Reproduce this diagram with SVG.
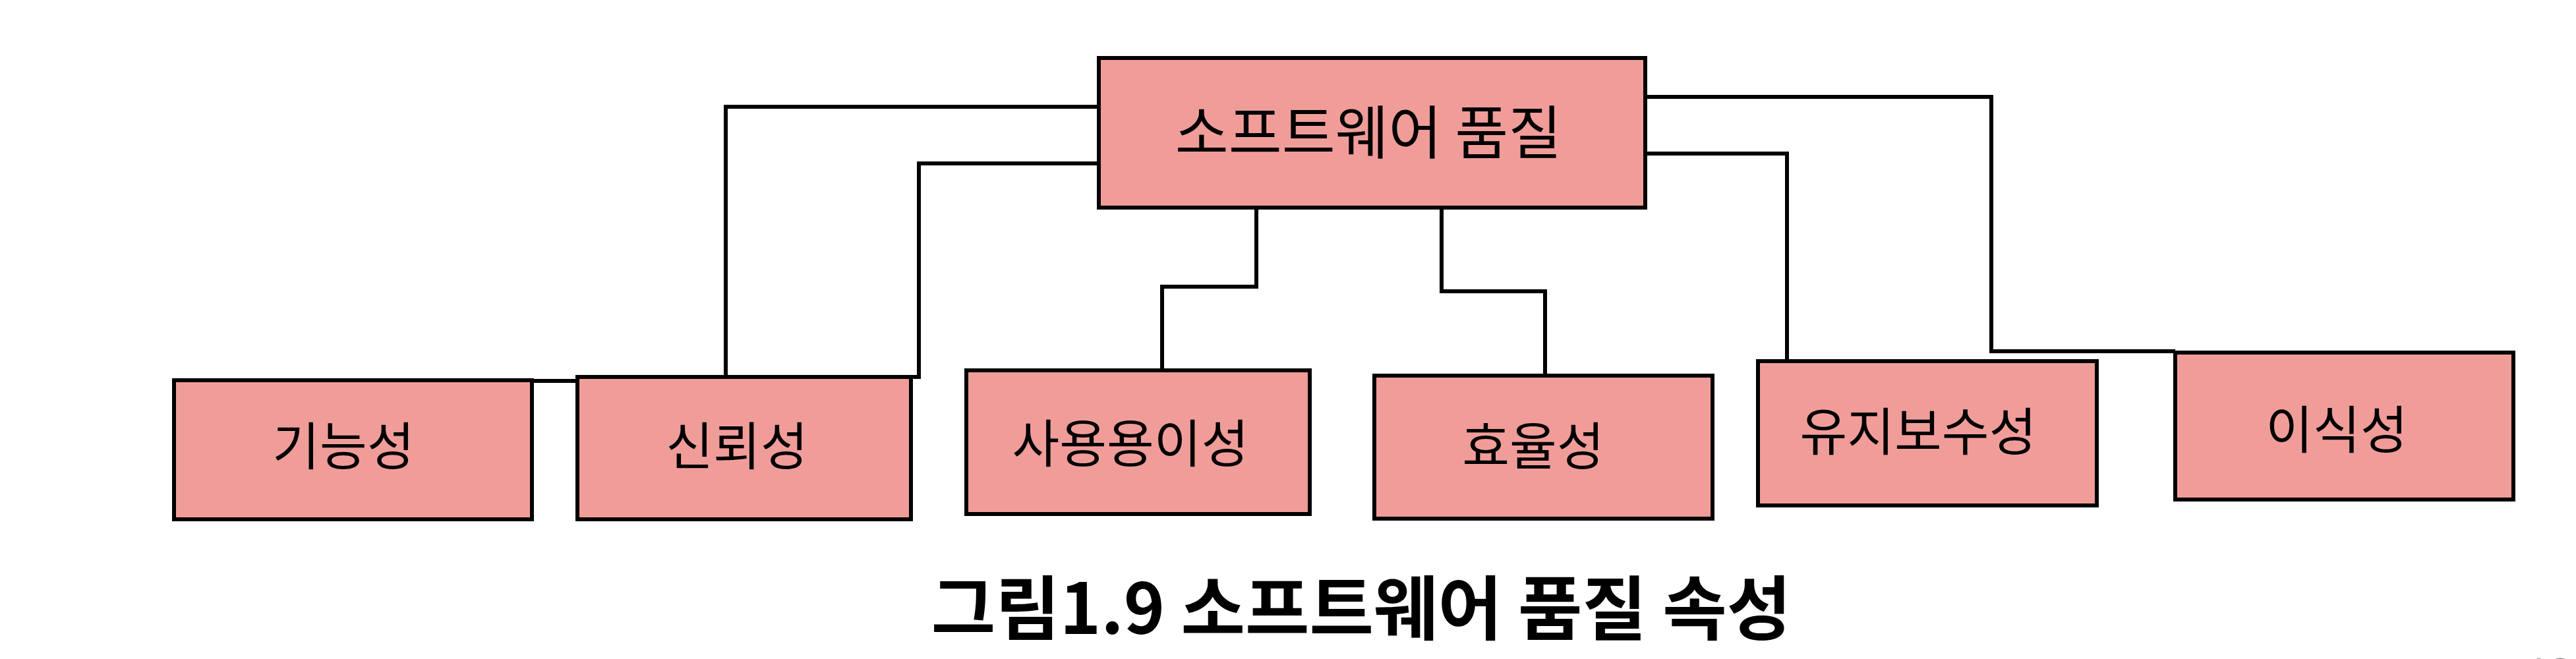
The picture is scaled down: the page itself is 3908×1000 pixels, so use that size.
<svg xmlns="http://www.w3.org/2000/svg" width="3908" height="1000" viewBox="0 0 3908 1000">
<style>
.node rect{fill:#F09D9A;stroke:#000;stroke-width:6}
.node text{font-family:"Noto Sans CJK KR","Noto Sans",sans-serif;font-size:78px;fill:#000;text-anchor:middle;dominant-baseline:central}
.conn path{fill:none;stroke:#000;stroke-width:6}
.caption{font-family:"Noto Sans CJK KR","Noto Sans",sans-serif;font-size:106px;font-weight:bold;fill:#000;text-anchor:middle}
.pageno{font-family:"Liberation Sans","Noto Sans",sans-serif;font-size:60px;fill:#8a8a8a}
</style>
<rect width="3908" height="1000" fill="#fff"/>
<g id="connectors" class="conn">
<path d="M1667,162 H1101 V578 H807"/>
<path d="M1667,248 H1394 V572 H1380"/>
<path d="M1906,300 V435 H1763 V562"/>
<path d="M2187,315 V442 H2344 V570"/>
<path d="M2496,147 H3021 V533 H3300"/>
<path d="M2496,233 H2711 V548"/>
</g>
<g id="software-quality" class="node">
<rect x="1667" y="88" width="829" height="227"/>
<text x="2076" y="194" style="font-size:88px">소프트웨어 품질</text>
</g>
<g id="functionality" class="node">
<rect x="264" y="577" width="543" height="211"/>
<text x="521" y="672">기능성</text>
</g>
<g id="reliability" class="node">
<rect x="876" y="572" width="506" height="216"/>
<text x="1118" y="672">신뢰성</text>
</g>
<g id="usability" class="node">
<rect x="1466" y="562" width="521" height="218"/>
<text x="1715" y="668">사용용이성</text>
</g>
<g id="efficiency" class="node">
<rect x="2085" y="570" width="513" height="217"/>
<text x="2326" y="672">효율성</text>
</g>
<g id="maintainability" class="node">
<rect x="2667" y="548" width="514" height="219"/>
<text x="2910" y="650">유지보수성</text>
</g>
<g id="portability" class="node">
<rect x="3300" y="535" width="513" height="223"/>
<text x="3545" y="647">이식성</text>
</g>
<text class="caption" x="2065" y="962">그림1.9 소프트웨어 품질 속성</text>
<text class="pageno" x="3834" y="1040">13</text>
</svg>
